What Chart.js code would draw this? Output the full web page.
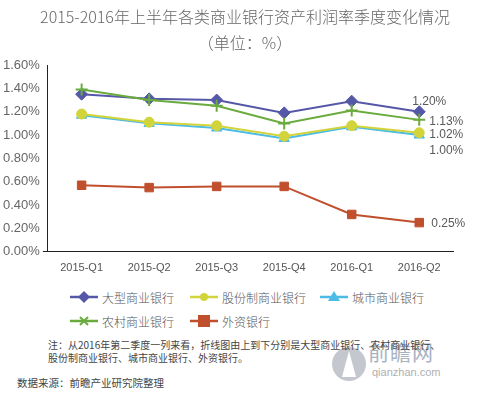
<!DOCTYPE html>
<html>
<head>
<meta charset="utf-8">
<script src="https://cdn.jsdelivr.net/npm/chart.js@4.4.1/dist/chart.umd.min.js"></script>
<style>
  html, body { margin: 0; padding: 0; background: #fff; }
  #wrap { position: relative; width: 478px; height: 394px; overflow: hidden;
          font-family: "Noto Sans CJK SC", "Liberation Sans", sans-serif; color: #595959; }
  #chart { position: absolute; left: 0; top: 0; }
  .title { position: absolute; left: 0; width: 490px; text-align: center; font-size: 16px; font-weight: 300; color: #666; }
  .leg { position: absolute; font-size: 12px; font-weight: 300; color: #555; display: flex; align-items: center; height: 16px; }
  .leg svg { margin-right: 4px; }
  .note { position: absolute; left: 48px; top: 338px; font-size: 10px; line-height: 13px; color: #444; white-space: nowrap; }
  .src { position: absolute; left: 17px; top: 375px; font-size: 10.5px; color: #444; }
  .wm1 { position: absolute; left: 368px; top: 336px; font-size: 21px; color: #aab3c2; letter-spacing: 1px; }
  .wm2 { position: absolute; left: 372px; top: 366px; font-size: 11px; color: #b0b0b0; font-family: "Liberation Sans", sans-serif; }
</style>
</head>
<body>
<div id="wrap">
  <canvas id="chart" width="478" height="285"></canvas>
  <div class="title" style="top:4px">2015-2016年上半年各类商业银行资产利润率季度变化情况</div>
  <div class="title" style="top:30px">（单位：%）</div>
  <div id="legend"></div>
  <svg style="position:absolute;left:330px;top:343px" width="40" height="42">
    <circle cx="19" cy="21" r="17" fill="#c4c8ce"/>
    <path d="M19 8 L26 34 L12 34 Z" fill="#fff"/>
  </svg>
  <div class="wm1">前瞻网</div>
  <div class="wm2">qianzhan.com</div>
  <div class="note">注：从2016年第二季度一列来看，折线图由上到下分别是大型商业银行、农村商业银行、<br>股份制商业银行、城市商业银行、外资银行。</div>
  <div class="src">数据来源：前瞻产业研究院整理</div>
</div>
<script>
const quarters = ["2015-Q1", "2015-Q2", "2015-Q3", "2015-Q4", "2016-Q1", "2016-Q2"];
const bigBanks = [1.35, 1.31, 1.30, 1.19, 1.29, 1.20];
const jointStock = [1.18, 1.11, 1.08, 0.99, 1.08, 1.02];
const cityBanks = [1.17, 1.10, 1.06, 0.97, 1.07, 1.00];
const ruralBanks = [1.39, 1.30, 1.25, 1.10, 1.21, 1.13];
const foreignBanks = [0.57, 0.55, 0.56, 0.56, 0.32, 0.25];
const yTicks = [0, 0.2, 0.4, 0.6, 0.8, 1.0, 1.2, 1.4, 1.6];

const series = [
  { label: "大型商业银行", data: bigBanks, color: "#5558a6", style: "rectRot", r: 6, end: [-7, -10] },
  { label: "股份制商业银行", data: jointStock, color: "#d2d43c", style: "circle", r: 5, end: [10, 2] },
  { label: "城市商业银行", data: cityBanks, color: "#4cbbe6", style: "triangle", r: 6, end: [10, 16] },
  { label: "农村商业银行", data: ruralBanks, color: "#6aab3d", style: "cross", r: 6, end: [10, 2] },
  { label: "外资银行", data: foreignBanks, color: "#c04f2d", style: "rect", r: 6, end: [12, 1] }
];
// draw order: foreign at bottom, big banks on top
const drawOrder = [4, 1, 2, 3, 0];

const endLabels = {
  id: "endLabels",
  afterDatasetsDraw(chart) {
    const ctx = chart.ctx;
    ctx.save();
    ctx.font = "12px 'Liberation Sans', sans-serif";
    ctx.fillStyle = "#595959";
    ctx.textBaseline = "middle";
    chart.data.datasets.forEach((ds, i) => {
      const meta = chart.getDatasetMeta(i);
      const pt = meta.data[meta.data.length - 1];
      const v = ds.data[ds.data.length - 1];
      ctx.fillText(v.toFixed(2) + "%", pt.x + ds.endOff[0], pt.y + ds.endOff[1]);
    });
    ctx.restore();
  }
};

new Chart(document.getElementById("chart"), {
  type: "line",
  data: {
    labels: quarters,
    datasets: series.map((s, i) => ({
      label: s.label,
      data: s.data,
      borderColor: s.color,
      backgroundColor: s.color,
      pointBorderColor: s.color,
      pointBackgroundColor: s.color,
      pointStyle: s.style,
      pointRadius: s.r,
      pointBorderWidth: s.style === "cross" ? 2 : 1,
      borderWidth: 2,
      tension: 0,
      order: drawOrder.indexOf(i),
      endOff: s.end
    }))
  },
  options: {
    responsive: false,
    animation: false,
    layout: { padding: { left: 0, right: 25, top: 65, bottom: 0 } },
    plugins: { legend: { display: false }, tooltip: { enabled: false } },
    scales: {
      x: {
        offset: true,
        grid: { display: false, drawTicks: false },
        border: { color: "#222", width: 1 },
        ticks: { color: "#555", font: { size: 11, family: "'Liberation Sans', sans-serif" }, padding: 10 }
      },
      y: {
        min: 0,
        max: 1.6,
        afterBuildTicks: (axis) => { axis.ticks = yTicks.map(v => ({ value: v })); },
        grid: {
          drawOnChartArea: false,
          tickLength: 5,
          color: (c) => (c.tick && c.tick.value === 0 ? "#222" : "rgba(0,0,0,0)")
        },
        border: { color: "#222", width: 1 },
        ticks: {
          color: "#666",
          padding: 3,
          font: { size: 13, family: "'Liberation Sans', sans-serif" },
          callback: (v) => v.toFixed(2) + "%"
        }
      }
    }
  },
  plugins: [endLabels]
});

// legend
function marker(s) {
  const c = s.color;
  let m = "";
  if (s.style === "rectRot") m = `<path d="M14 2 L20 8 L14 14 L8 8 Z" fill="${c}"/>`;
  else if (s.style === "circle") m = `<circle cx="14" cy="8" r="4" fill="${c}"/>`;
  else if (s.style === "triangle") m = `<path d="M14 2 L20 12 L8 12 Z" fill="${c}"/>`;
  else if (s.style === "cross") m = `<path d="M10 4 L18 12 M18 4 L10 12" stroke="${c}" stroke-width="2"/>`;
  else m = `<rect x="8" y="2" width="12" height="12" fill="${c}"/>`;
  return `<svg width="28" height="16"><line x1="0" y1="8" x2="28" y2="8" stroke="${c}" stroke-width="2.5"/>${m}</svg>`;
}
const legPos = [[70, 289], [190, 289], [320, 289], [70, 313], [190, 313]];
document.getElementById("legend").innerHTML = series.map((s, i) =>
  `<div class="leg" style="left:${legPos[i][0]}px;top:${legPos[i][1]}px">${marker(s)}${s.label}</div>`
).join("");
</script>
</body>
</html>
